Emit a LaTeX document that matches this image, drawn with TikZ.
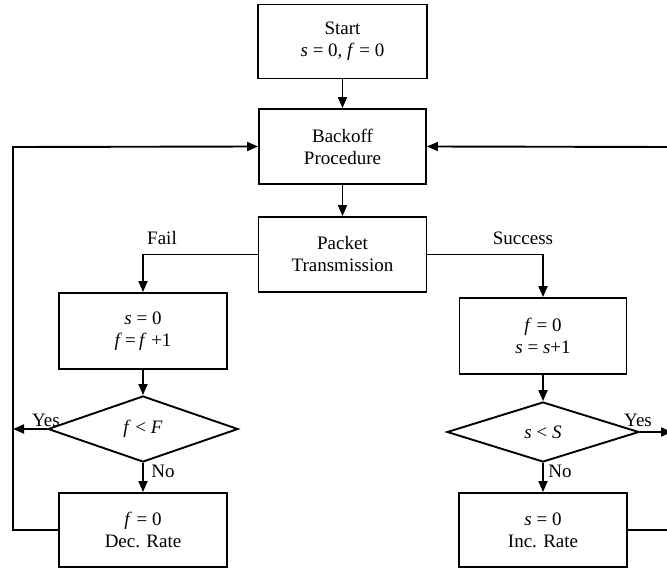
\documentclass[tikz,border=0pt]{standalone}
\usepackage{fontspec}
\setmainfont{Liberation Serif}
\usetikzlibrary{shapes.geometric,arrows.meta}
\begin{document}
\begin{tikzpicture}[x=1pt,y=-1pt,
  every node/.style={font=\fontsize{19}{22}\selectfont},
  box/.style={draw,line width=1.9pt,rectangle,align=center,inner sep=0pt},
  test/.style={draw,line width=1.9pt,diamond,align=center,inner sep=0pt,shape aspect=3},
  flow/.style={line width=1.9pt,-{Triangle[length=11pt,width=9pt]}},
  lab/.style={inner sep=0pt}]
\clip (0,0) rectangle (667,575);

% process boxes
\node[box,minimum width=169pt,minimum height=74pt] (start) at (342.5,41.5) {Start\\\textit{s} = 0, \textit{f} = 0};
\node[box,minimum width=167pt,minimum height=75pt] (backoff) at (342.5,146.5) {Backoff\\Procedure};
\node[box,minimum width=168pt,minimum height=75pt] (tx) at (342.5,254.5) {Packet\\Transmission};
\node[box,minimum width=168pt,minimum height=76pt] (fail) at (143,331) {\textit{s} = 0\\\textit{f}\,=\,\textit{f} +1};
\node[box,minimum width=167pt,minimum height=76pt] (succ) at (543,336) {\textit{f} = 0\\\textit{s} = \textit{s}+1};
\node[box,minimum width=168pt,minimum height=74pt] (dec) at (143,530) {\textit{f} = 0\\Dec. Rate};
\node[box,minimum width=168pt,minimum height=74pt] (inc) at (543,530) {\textit{s} = 0\\Inc. Rate};

% decisions
\node[test,minimum width=190pt,minimum height=66pt] (ftest) at (143,429) {\textit{f} {\textless} \textit{F}};
\node[test,minimum width=192pt,minimum height=60pt] (stest) at (543,432) {\textit{s} {\textless} \textit{S}};

% loop corners
\coordinate (lt) at (13,147);
\coordinate (lb) at (13,530);
\coordinate (ly) at (13,429);
\coordinate (rt) at (672,147);
\coordinate (rb) at (672,530);
\coordinate (ry) at (672,432);

% main path
\draw[flow] (start) -- (backoff);
\draw[flow] (backoff) -- (tx);
\draw[flow] (tx.west) -| (fail.north);
\draw[flow] (tx.east) -| (succ.north);
\draw[flow] (fail) -- (ftest);
\draw[flow] (succ) -- (stest);
\draw[flow] (ftest) -- (dec);
\draw[flow] (stest) -- (inc);

% feedback loops
\draw[flow] (ftest.west) -- (ly);
\draw[flow] (dec.west) -- (lb) -- (lt) -- (backoff.west);
\draw[flow] (stest.east) -- (ry);
\draw[flow] (inc.east) -- (rb) -- (rt) -- (backoff.east);

% labels
\node[lab] (lfail) at (162,238) {Fail};
\node[lab] (lsucc) at (523,238) {Success};
\node[lab] (lyes1) at (46,420) {Yes};
\node[lab] (lyes2) at (638,420) {Yes};
\node[lab] (lno1) at (163,471) {No};
\node[lab] (lno2) at (560,471) {No};
\end{tikzpicture}
\end{document}
